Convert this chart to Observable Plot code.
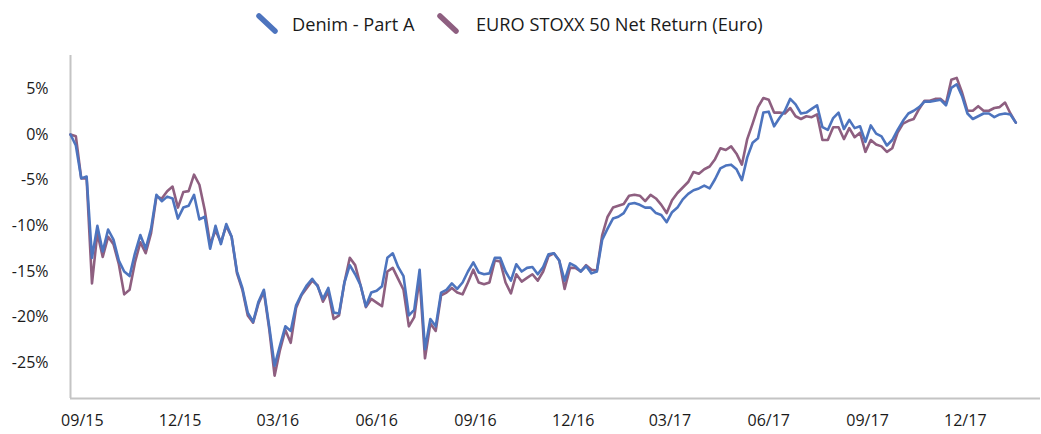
<!DOCTYPE html>
<html>
<head>
<meta charset="utf-8">
<script src="https://cdn.jsdelivr.net/npm/d3@7"></script>
<script src="https://cdn.jsdelivr.net/npm/@observablehq/plot@0.6"></script>
<style>
  html, body { margin: 0; padding: 0; background: #fff; }
  #wrap { width: 1041px; height: 434px; overflow: hidden; font-family: "Open Sans", sans-serif; color: #1a1a1a; }
  #legend { position: relative; height: 45px; width: 1041px; }
  #legend .sw { position: absolute; top: 13px; }
  #legend .lab { position: absolute; top: 12px; font-size: 18.2px; line-height: 24px; white-space: nowrap; color: #1a1a1a; }
</style>
</head>
<body>
<div id="wrap">
  <div id="legend"></div>
  <div id="chart"></div>
</div>
<script>
// ---- data (percent; one sample every 5 days from 21 Aug 2015) ----
const startDate = "2015-08-21";
const stepDays = 5;
const seriesNames = ["Denim - Part A", "EURO STOXX 50 Net Return (Euro)"];
const seriesColors = ["#4d74be", "#8e5f80"];

const denim = [
  0,-1.2,-4.8,-4.6,-13.5,-10.0,-12.8,-10.4,-11.5,-13.8,
  -15.0,-15.5,-13.0,-11.0,-12.5,-10.3,-6.6,-7.3,-6.8,-7.0,
  -9.2,-8.0,-7.8,-6.6,-9.3,-9.0,-12.5,-10.0,-12.0,-9.8,
  -11.2,-15.0,-16.8,-19.5,-20.5,-18.3,-17.0,-21.0,-25.3,-23.1,
  -21.0,-21.5,-18.7,-17.5,-16.5,-15.8,-16.6,-18.0,-16.8,-19.5,
  -19.6,-16.2,-14.3,-15.3,-16.5,-18.8,-17.3,-17.1,-16.6,-13.5,
  -13.0,-14.5,-15.5,-19.8,-19.2,-14.8,-23.5,-20.2,-21.0,-17.3,
  -17.0,-16.3,-16.9,-16.2,-15.0,-14.0,-15.1,-15.3,-15.2,-13.5,
  -13.5,-15.0,-16.0,-14.2,-15.0,-14.6,-14.5,-15.3,-14.5,-13.1,
  -13.0,-13.8,-16.0,-14.1,-14.4,-15.0,-14.4,-15.2,-15.0,-11.5,
  -10.3,-9.2,-9.0,-8.6,-7.6,-7.5,-7.7,-8.0,-8.0,-8.6,
  -8.8,-9.6,-8.5,-8.0,-7.1,-6.5,-6.1,-5.9,-5.6,-5.9,
  -4.9,-3.7,-3.4,-3.3,-3.8,-5.0,-2.5,-0.9,-0.4,2.4,
  2.5,0.9,1.8,2.6,3.9,3.3,2.3,2.4,2.8,3.2,
  0.8,0.5,1.8,2.4,0.6,1.6,0.7,0.9,-0.8,1.0,
  0.1,-0.2,-1.2,-0.6,0.5,1.5,2.3,2.6,3.0,3.6,
  3.6,3.7,3.8,3.2,5.1,5.5,4.2,2.3,1.7,2.0,
  2.3,2.3,1.9,2.2,2.3,2.2,1.3
];
const eurostoxx = [
  0,-0.2,-4.8,-4.8,-16.3,-10.8,-13.4,-11.2,-12.0,-14.2,
  -17.5,-17.0,-14.0,-11.8,-13.0,-10.8,-6.8,-7.0,-6.2,-5.7,
  -8.0,-6.3,-6.2,-4.4,-5.5,-8.3,-12.0,-10.5,-11.8,-10.0,
  -11.2,-15.2,-17.0,-19.8,-20.6,-18.5,-17.2,-21.3,-26.4,-23.6,
  -21.4,-22.8,-19.0,-17.6,-16.8,-16.0,-16.5,-18.3,-17.2,-20.2,
  -19.8,-16.2,-13.5,-14.3,-16.5,-18.9,-18.0,-18.4,-18.8,-15.0,
  -14.6,-15.8,-17.0,-21.0,-20.0,-15.7,-24.5,-20.7,-21.5,-17.6,
  -17.3,-16.8,-17.3,-17.5,-16.2,-14.8,-16.2,-16.4,-16.2,-13.8,
  -13.9,-16.2,-17.4,-15.3,-16.1,-15.7,-15.3,-16.0,-15.0,-13.3,
  -13.0,-13.8,-16.9,-14.6,-14.6,-15.0,-14.3,-14.8,-14.9,-11.0,
  -9.0,-8.0,-7.8,-7.6,-6.7,-6.6,-6.7,-7.3,-6.6,-7.0,
  -7.7,-8.6,-7.2,-6.4,-5.8,-5.2,-4.1,-4.3,-3.8,-3.5,
  -2.7,-1.5,-1.7,-1.3,-2.1,-3.3,-0.5,1.2,3.0,4.0,
  3.8,2.4,2.4,2.3,2.9,2.0,1.7,2.0,1.9,2.2,
  -0.6,-0.6,0.8,0.8,-0.5,0.7,-0.3,0.2,-1.9,-0.6,
  -1.1,-1.3,-1.9,-1.5,0.2,1.2,1.5,1.7,2.8,3.7,
  3.7,3.9,3.9,3.4,6.0,6.2,4.6,2.6,2.6,3.1,
  2.6,2.6,2.9,3.0,3.5,2.3,1.3
];

const yTicks = [-25, -20, -15, -10, -5, 0, 5];
const xTickDates = ["2015-09-01","2015-12-01","2016-03-01","2016-06-01","2016-09-01",
                    "2016-12-01","2017-03-01","2017-06-01","2017-09-01","2017-12-01"];
const xDomain = ["2015-08-21", "2018-02-09"];
const yDomain = [-28.9, 8.65];

// ---- build table ----
const t0 = new Date(startDate + "T00:00:00Z").getTime();
const dayMs = 864e5;
const rows = [];
denim.forEach((v, i) => rows.push({date: new Date(t0 + i * stepDays * dayMs), value: v, series: seriesNames[0]}));
eurostoxx.forEach((v, i) => rows.push({date: new Date(t0 + i * stepDays * dayMs), value: v, series: seriesNames[1]}));

const xd = xDomain.map(s => new Date(s + "T00:00:00Z"));
const fmtPct = d => (d < 0 ? "-" : "") + Math.abs(d) + "%";

const chart = Plot.plot({
  width: 1041,
  height: 389,
  marginLeft: 70,
  marginRight: 1,
  marginTop: 10,
  marginBottom: 36,
  style: {fontFamily: "'Open Sans', sans-serif", fontSize: "16px", color: "#1a1a1a", background: "#fff"},
  x: {type: "utc", domain: xd, ticks: xTickDates.map(s => new Date(s + "T00:00:00Z")),
      tickFormat: d3.utcFormat("%m/%y"), tickSize: 0, tickPadding: 16, label: null},
  y: {domain: yDomain, ticks: yTicks, tickFormat: fmtPct, tickSize: 0, tickPadding: 22, label: null},
  color: {domain: seriesNames, range: seriesColors},
  marks: [
    Plot.ruleY([yDomain[0]], {stroke: "#c4c4c4", strokeWidth: 2}),
    Plot.ruleX([xd[0]], {stroke: "#c4c4c4", strokeWidth: 2}),
    Plot.line(rows.filter(d => d.series === seriesNames[1]), {x: "date", y: "value", stroke: "series", strokeWidth: 2.6, strokeLinejoin: "round"}),
    Plot.line(rows.filter(d => d.series === seriesNames[0]), {x: "date", y: "value", stroke: "series", strokeWidth: 2.6, strokeLinejoin: "round"})
  ]
});
document.getElementById("chart").appendChild(chart);

// ---- legend ----
const legend = document.getElementById("legend");
const legendItems = [
  {name: seriesNames[0], color: seriesColors[0], sw: 256, lab: 292},
  {name: seriesNames[1], color: seriesColors[1], sw: 437, lab: 476}
];
legendItems.forEach(it => {
  const s = document.createElementNS("http://www.w3.org/2000/svg", "svg");
  s.setAttribute("class", "sw");
  s.setAttribute("width", "24");
  s.setAttribute("height", "22");
  s.style.left = it.sw + "px";
  s.innerHTML = `<line x1="3" y1="3" x2="19" y2="18" stroke="${it.color}" stroke-width="5.5" stroke-linecap="round"/>`;
  legend.appendChild(s);
  const l = document.createElement("div");
  l.className = "lab";
  l.style.left = it.lab + "px";
  l.textContent = it.name;
  legend.appendChild(l);
});
</script>
</body>
</html>
